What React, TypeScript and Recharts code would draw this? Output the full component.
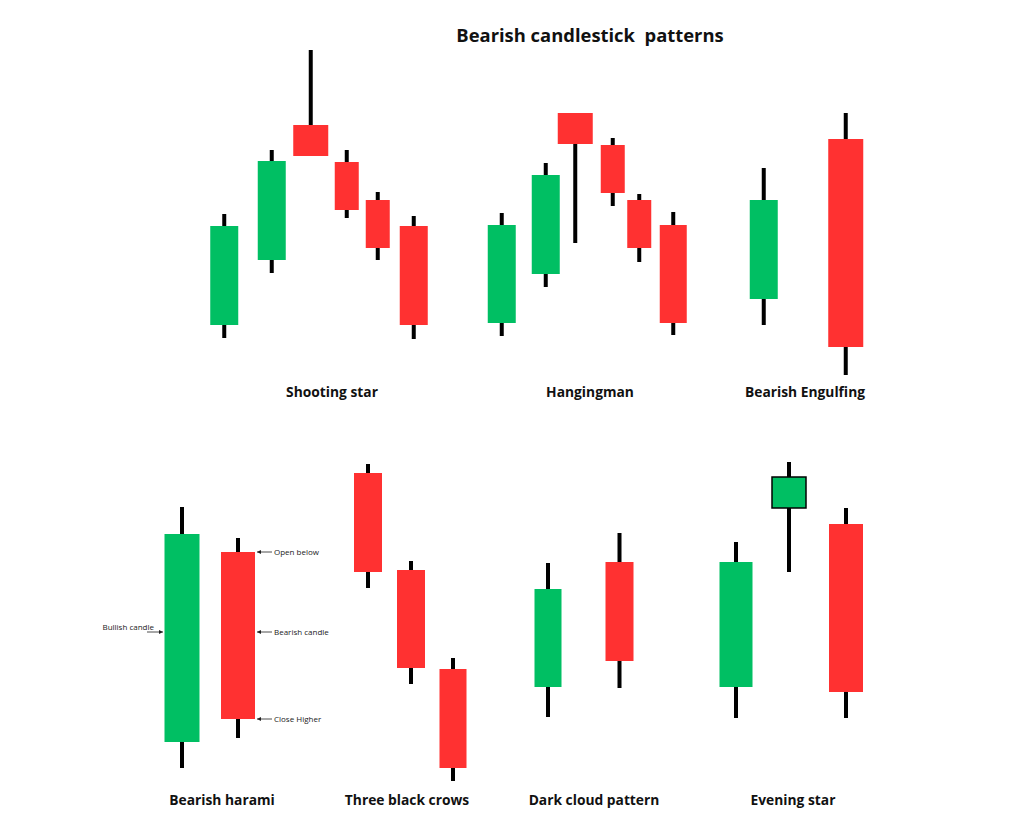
import {Bar, ComposedChart, ReferenceDot, ReferenceLine, XAxis, YAxis} from "recharts";

type Candle = { t: number; open: number; high: number; low: number; close: number };

const GREEN = "#00bf63";
const RED = "#ff3131";
const FONT = "'Open Sans', sans-serif";

// top row (price scale 0..416)
const shootingStar: Candle[] = [
    {t: 224.5, open: 91, high: 202, low: 78, close: 190},
    {t: 272, open: 156, high: 266, low: 143, close: 255},
    {t: 311, open: 291, high: 366, low: 260, close: 260},
    {t: 347, open: 254, high: 266, low: 198, close: 206},
    {t: 378, open: 216, high: 224, low: 156, close: 168},
    {t: 414, open: 190, high: 200, low: 77, close: 91},
];
const hangingMan: Candle[] = [
    {t: 502, open: 93, high: 203, low: 80, close: 191},
    {t: 546, open: 142, high: 253, low: 129, close: 241},
    {t: 575.5, open: 303, high: 303, low: 173, close: 272},
    {t: 613, open: 271, high: 278, low: 210, close: 223},
    {t: 639.5, open: 216, high: 222, low: 154, close: 168},
    {t: 673.5, open: 191, high: 204, low: 81, close: 93},
];
const bearishEngulfing: Candle[] = [
    {t: 764, open: 117, high: 248, low: 91, close: 216},
    {t: 846, open: 277, high: 303, low: 41, close: 69},
];

// bottom row (price scale 0..417)
const bearishHarami: Candle[] = [
    {t: 182, open: 91, high: 326, low: 65, close: 299},
    {t: 238, open: 281, high: 295, low: 95, close: 114},
];
const threeBlackCrows: Candle[] = [
    {t: 368, open: 360, high: 369, low: 245, close: 261},
    {t: 411, open: 263, high: 272, low: 149, close: 165},
    {t: 453, open: 164, high: 175, low: 52, close: 65},
];
const darkCloud: Candle[] = [
    {t: 548, open: 146, high: 270, low: 116, close: 244},
    {t: 619.5, open: 271, high: 300, low: 145, close: 172},
];
const eveningStar: Candle[] = [
    {t: 736, open: 146, high: 291, low: 115, close: 271},
    {t: 789, open: 325, high: 371, low: 261, close: 356},
    {t: 846, open: 309, high: 325, low: 115, close: 141},
];

const topNames = ["Shooting star", "Hangingman", "Bearish Engulfing"];
const bottomNames = ["Bearish harami", "Three black crows", "Dark cloud pattern", "Evening star"];
const haramiNotes = ["Open below", "Bearish candle", "Close Higher"];
const haramiNotePrices = [281, 201, 114];

// styles (body widths in px, outlined bodies)
const topWidths = [28, 28, 35, 24, 24, 28, 28, 28, 35, 24, 24, 27, 28, 35];
const bottomWidths = [35, 34, 28, 28, 27, 27, 28, 33, 34, 34];
const bottomOutlined = [8];
const topLabelX = [332, 590, 805];
const bottomLabelX = [222, 407, 594, 793];

const topData = [...shootingStar, ...hangingMan, ...bearishEngulfing];
const bottomData = [...bearishHarami, ...threeBlackCrows, ...darkCloud, ...eveningStar];

const makeCandle = (widths: number[], outlined: number[]) => (props: any) => {
    const {x, y, width, height, payload, index} = props;
    const {open, close, high, low} = payload as Candle;
    const top = Math.min(y, y + height);
    const h = Math.abs(height);
    const toPx = (p: number) => top + ((high - p) / (high - low)) * h;
    const cx = x + width / 2;
    const bw = widths[index] ?? 28;
    const yo = toPx(open);
    const yc = toPx(close);
    const bodyTop = Math.min(yo, yc);
    const bodyH = Math.max(Math.abs(yo - yc), 1);
    const up = close > open;
    const border = outlined.includes(index);
    return (
        <g>
            <line x1={cx} x2={cx} y1={top} y2={top + h} stroke="#000" strokeWidth={4}/>
            <rect x={cx - bw / 2} y={bodyTop} width={bw} height={bodyH}
                  fill={up ? GREEN : RED}
                  stroke={border ? "#000" : "none"} strokeWidth={border ? 1.5 : 0}/>
        </g>
    );
};

const Arrow = (props: any) => {
    const {x1, y1, x2, y2} = props;
    const dir = x2 > x1 ? 1 : -1;
    return (
        <g>
            <line x1={x1} y1={y1} x2={x2} y2={y2} stroke="#222" strokeWidth={0.8}/>
            <path d={`M${x2},${y2} L${x2 - dir * 4},${y2 - 2} L${x2 - dir * 4},${y2 + 2} Z`} fill="#222"/>
        </g>
    );
};

const labelStyle = {position: "center" as const, fill: "#111", fontSize: 13.8, fontWeight: 700, fontFamily: FONT};
const noteStyle = {fill: "#222", fontSize: 8, fontFamily: FONT, offset: 2};

const App = (): React.JSX.Element => {
    return (
        <div style={{position: "absolute", left: 0, top: 0, width: 1024, height: 833, background: "#fff"}}>
            <div style={{
                position: "absolute", left: 390, top: 22, width: 400, textAlign: "center",
                fontFamily: FONT, fontWeight: 700, fontSize: 18.4, lineHeight: "26px",
                color: "#111", whiteSpace: "pre",
            }}>
                Bearish candlestick  patterns
            </div>
            <ComposedChart width={1024} height={416} data={topData} margin={{top: 0, right: 0, bottom: 0, left: 0}}>
                <XAxis dataKey="t" type="number" domain={[0, 1024]} hide/>
                <YAxis type="number" domain={[0, 416]} hide/>
                <Bar dataKey={(d: Candle) => [d.low, d.high]} barSize={20} isAnimationActive={false}
                     shape={makeCandle(topWidths, [])}/>
                {topNames.map((name, i) => (
                    <ReferenceDot key={name} x={topLabelX[i]} y={24} r={0} fill="none" stroke="none"
                                  label={{value: name, ...labelStyle}}/>
                ))}
            </ComposedChart>
            <ComposedChart width={1024} height={417} data={bottomData} margin={{top: 0, right: 0, bottom: 0, left: 0}}>
                <XAxis dataKey="t" type="number" domain={[0, 1024]} hide/>
                <YAxis type="number" domain={[0, 417]} hide/>
                <Bar dataKey={(d: Candle) => [d.low, d.high]} barSize={20} isAnimationActive={false}
                     shape={makeCandle(bottomWidths, bottomOutlined)}/>
                {haramiNotes.map((note, i) => (
                    <ReferenceLine key={note} segment={[{x: 272, y: haramiNotePrices[i]}, {x: 257, y: haramiNotePrices[i]}]}
                                   shape={Arrow}/>
                ))}
                {haramiNotes.map((note, i) => (
                    <ReferenceDot key={note + "-t"} x={272} y={haramiNotePrices[i]} r={0} fill="none" stroke="none"
                                  label={{value: note, position: "right", ...noteStyle}}/>
                ))}
                <ReferenceLine segment={[{x: 147, y: 201}, {x: 163, y: 201}]} shape={Arrow}/>
                <ReferenceDot x={156} y={206} r={0} fill="none" stroke="none"
                              label={{value: "Bullish candle", position: "left", ...noteStyle}}/>
                {bottomNames.map((name, i) => (
                    <ReferenceDot key={name} x={bottomLabelX[i]} y={33} r={0} fill="none" stroke="none"
                                  label={{value: name, ...labelStyle}}/>
                ))}
            </ComposedChart>
        </div>
    );
};

export default App;
